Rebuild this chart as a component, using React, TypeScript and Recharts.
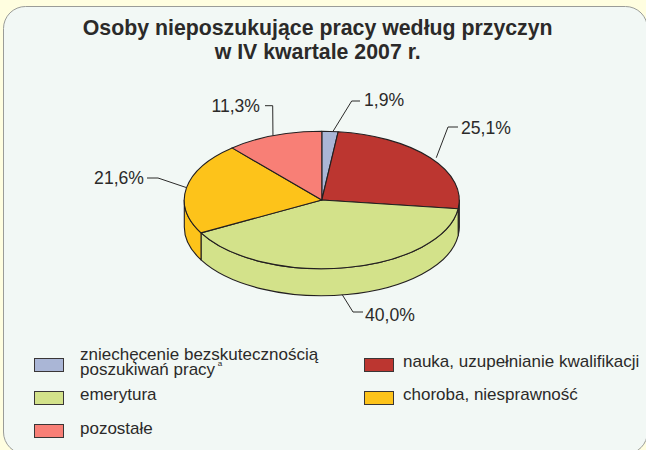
import React from "react";
import { PieChart, Pie, Cell, Legend } from "recharts";

const categories = [
  "zniechęcenie bezskutecznością poszukiwań pracy",
  "nauka, uzupełnianie kwalifikacji",
  "emerytura",
  "choroba, niesprawność",
  "pozostałe",
];
const shares = [1.9, 25.1, 40.0, 21.6, 11.3];
const shareLabels = ["1,9%", "25,1%", "40,0%", "21,6%", "11,3%"];
const topColors = ["#aab6d6", "#bc3630", "#d3e28a", "#fdc31a", "#f87f76"];
const wallColors = ["#aab6d6", "#2a1512", "#d3e28a", "#fdc31a", "#f87f76"];
const titleLines = ["Osoby nieposzukujące pracy według przyczyn", "w IV kwartale 2007 r."];

const data = categories.map((name, i) => ({ name, value: shares[i] }));

const W = 646;
const H = 450;
const CX = 321.8;
const CY = 200;
const RX = 137.5;
const SQUASH = 0.5;
const DEPTH = 27;
const INK = "#2b2a29";
const EDGE = "#231f20";
const FONT = "'Liberation Sans', Arial, sans-serif";

// leader elbow and label placement per slice
const leaders = [
  { nudge: 3, elbow: [351.7, 101], end: [360, 101], tx: 364, ty: 105.7, anchor: "start", wall: false },
  { nudge: 6, elbow: [448, 127], end: [458, 127], tx: 461, ty: 134, anchor: "start", wall: false },
  { nudge: -5, elbow: [353, 312], end: [363, 312], tx: 365, ty: 321, anchor: "start", wall: true },
  { nudge: 0, elbow: [158, 178], end: [147, 178], tx: 144, ty: 184, anchor: "end", wall: false },
  { nudge: -1, elbow: [272.7, 105.7], end: [265, 105.7], tx: 260, ty: 111.5, anchor: "end", wall: false },
];

const pt = (cx: number, cy: number, r: number, deg: number, dy = 0) => {
  const a = (deg * Math.PI) / 180;
  return [cx + r * Math.cos(a), cy - r * SQUASH * Math.sin(a) + dy];
};

function TopSlice(p: any) {
  const { cx, cy, outerRadius: r, startAngle, endAngle, fill } = p;
  const [x0, y0] = pt(cx, cy, r, startAngle);
  const [x1, y1] = pt(cx, cy, r, endAngle);
  const large = Math.abs(endAngle - startAngle) > 180 ? 1 : 0;
  const d = `M${cx},${cy}L${x0},${y0}A${r},${r * SQUASH} 0 ${large} 1 ${x1},${y1}Z`;
  return <path d={d} fill={fill} stroke={EDGE} strokeWidth={1.1} strokeLinejoin="round" />;
}

function WallSlice(p: any) {
  const { cx, cy, outerRadius: r, startAngle, endAngle, fill } = p;
  // angles run clockwise from 90 to -270: the visible front wall lies between 0 and -180
  const s = Math.min(startAngle, 0);
  const e = Math.max(endAngle, -180);
  if (s <= e) return <g />;
  const [x0, y0] = pt(cx, cy, r, s);
  const [x1, y1] = pt(cx, cy, r, e);
  const [x2, y2] = pt(cx, cy, r, e, DEPTH);
  const [x3, y3] = pt(cx, cy, r, s, DEPTH);
  const ry = r * SQUASH;
  const d = `M${x0},${y0}A${r},${ry} 0 0 1 ${x1},${y1}L${x2},${y2}A${r},${ry} 0 0 0 ${x3},${y3}Z`;
  return <path d={d} fill={fill} stroke={EDGE} strokeWidth={1.1} strokeLinejoin="round" />;
}

function SliceLabel(p: any) {
  const { cx, cy, outerRadius: r, midAngle, index } = p;
  const l = leaders[index];
  const [sx, sy] = pt(cx, cy, r, midAngle, l.wall ? DEPTH : 0);
  return (
    <g>
      <polyline
        points={`${sx + l.nudge},${sy} ${l.elbow[0]},${l.elbow[1]} ${l.end[0]},${l.end[1]}`}
        fill="none"
        stroke={INK}
        strokeWidth={1}
      />
      <text x={l.tx} y={l.ty} textAnchor={l.anchor} fontSize={17.6} fill={INK} fontFamily={FONT}>
        {shareLabels[index]}
      </text>
    </g>
  );
}

const swatchPos = [
  { x: 34, y: 358, tx: 80, ty: 348 },
  { x: 364, y: 358, tx: 403, ty: 352 },
  { x: 34, y: 391, tx: 80, ty: 385 },
  { x: 364, y: 391, tx: 403, ty: 385 },
  { x: 34, y: 424, tx: 80, ty: 419 },
];

function LegendBody({ payload }: any) {
  const entries = (payload || []).filter((e: any) => e.type !== "none").slice(-categories.length);
  return (
    <div style={{ position: "relative", width: W, height: H }}>
      {entries.map((e: any, i: number) => {
        const pos = swatchPos[i];
        const isLong = i === 0;
        return (
          <React.Fragment key={i}>
            <div
              style={{
                position: "absolute",
                left: pos.x,
                top: pos.y,
                width: 30,
                height: 14,
                boxSizing: "border-box",
                background: e.color,
                border: `1.5px solid #3a3636`,
              }}
            />
            <div
              style={{
                position: "absolute",
                left: pos.tx,
                top: pos.ty,
                width: 265,
                fontFamily: FONT,
                fontSize: 17,
                lineHeight: isLong ? "14.5px" : "20px",
                color: INK,
                whiteSpace: "nowrap",
                textAlign: "left",
              }}
            >
              {isLong ? (
                <>
                  zniechęcenie bezskutecznością
                  <br />
                  poszukiwań pracy <sup style={{ fontSize: 8, lineHeight: 0, position: "relative", top: -2, left: -2 }}>a</sup>
                </>
              ) : (
                e.value
              )}
            </div>
          </React.Fragment>
        );
      })}
    </div>
  );
}

export default function App() {
  return (
    <div style={{ position: "absolute", left: 0, top: 0, width: W, height: H, background: "#fffee0", overflow: "hidden" }}>
      <PieChart width={W} height={H} margin={{ top: 0, right: 0, bottom: 0, left: 0 }}>
        <rect x={3.5} y={6.5} width={644} height={447.5} rx={22} ry={22} fill="#f2f8f5" stroke="#9a9c98" strokeWidth={1} />
        {titleLines.map((t, i) => (
          <text
            key={t}
            x={317.7}
            y={35 + i * 24}
            textAnchor="middle"
            fontFamily={FONT}
            fontWeight="bold"
            fontSize={21.3}
            fill={INK}
          >
            {t}
          </text>
        ))}
        <Pie
          data={data}
          dataKey="value"
          nameKey="name"
          cx={CX}
          cy={CY}
          innerRadius={0}
          outerRadius={RX}
          startAngle={90}
          endAngle={-270}
          isAnimationActive={false}
          legendType="none"
          shape={WallSlice}
          label={false}
          labelLine={false}
        >
          {data.map((_, i) => (
            <Cell key={i} fill={wallColors[i]} />
          ))}
        </Pie>
        <Pie
          data={data}
          dataKey="value"
          nameKey="name"
          cx={CX}
          cy={CY}
          innerRadius={0}
          outerRadius={RX}
          startAngle={90}
          endAngle={-270}
          isAnimationActive={false}
          legendType="rect"
          shape={TopSlice}
          label={SliceLabel}
          labelLine={false}
        >
          {data.map((_, i) => (
            <Cell key={i} fill={topColors[i]} />
          ))}
        </Pie>
        <Legend
          content={<LegendBody />}
          itemSorter={null}
          wrapperStyle={{ position: "absolute", left: 0, top: 0, width: W, height: H, pointerEvents: "none" }}
        />
      </PieChart>
    </div>
  );
}
